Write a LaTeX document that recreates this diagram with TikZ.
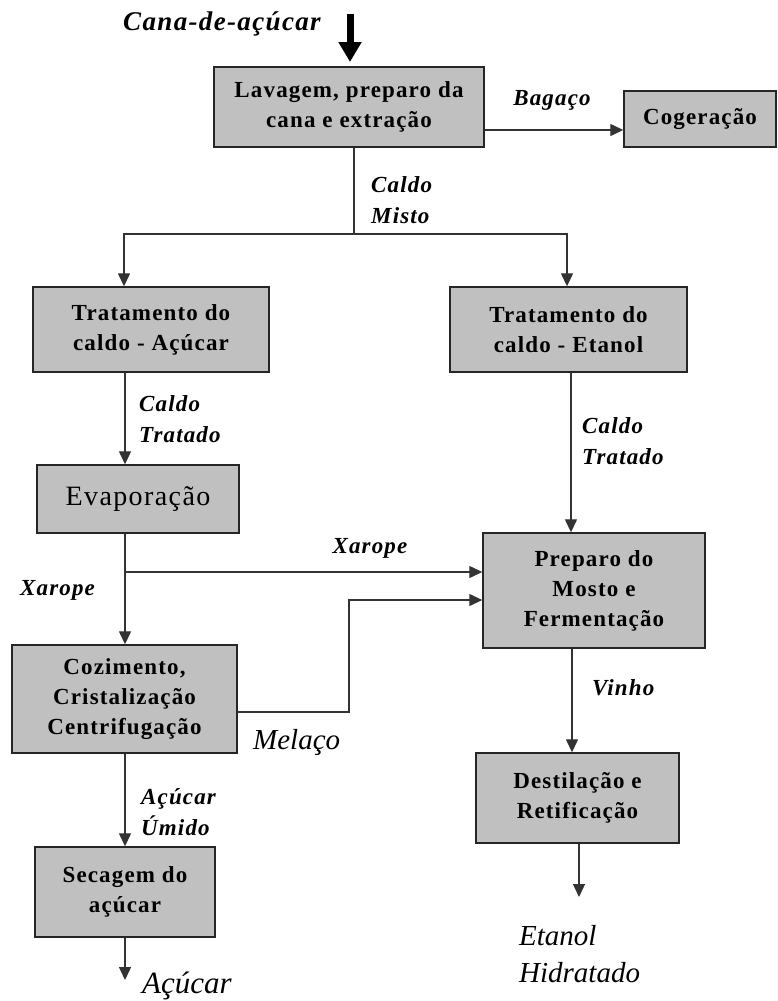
\documentclass[tikz,border=0pt]{standalone}
\usepackage{fontspec}
\setmainfont{Liberation Serif}
\newfontfamily\spaced[LetterSpace=5]{Liberation Serif}
\usetikzlibrary{arrows.meta}
\definecolor{boxgray}{RGB}{192,192,192}
\newcommand{\bxfont}{\spaced\bfseries\fontsize{23}{30}\selectfont}
\newcommand{\lbfont}{\spaced\bfseries\itshape\fontsize{23}{31}\selectfont}
\newcommand{\bigit}{\rmfamily\itshape\fontsize{29}{37}\selectfont}
\begin{document}
\begin{tikzpicture}[x=1pt,y=-1pt,
  proc/.style={draw=black!85, line width=1.4pt, fill=boxgray, align=center,
    inner sep=0pt, font=\bxfont},
  conn/.style={draw=black!80, line width=1.3pt},
  arr/.style={conn, -{Triangle[length=13pt,width=12pt]}},
  lbl/.style={font=\lbfont, align=left, inner sep=0pt},
  big/.style={font=\bigit, align=left, inner sep=0pt}]
\useasboundingbox (0,0) rectangle (777,1001);
% boxes
\node[proc, minimum width=270pt, minimum height=80pt] (lav) at (349,107) {Lavagem, preparo da\\cana e extração};
\node[proc, minimum width=152pt, minimum height=56pt] (cog) at (700,119) {Cogeração};
\node[proc, minimum width=236pt, minimum height=85pt] (tra) at (151,329.5) {Tratamento do\\caldo - Açúcar};
\node[proc, minimum width=237pt, minimum height=85pt] (tre) at (568.5,329.5) {Tratamento do\\caldo - Etanol};
\node[proc, minimum width=202pt, minimum height=68pt, font=\spaced\fontsize{28}{30}\selectfont] (eva) at (138,499) {Evaporação};
\node[proc, minimum width=222pt, minimum height=115pt] (pre) at (594,590.5) {Preparo do\\Mosto e\\Fermentação};
\node[proc, minimum width=225pt, minimum height=108pt] (coz) at (124.5,699) {Cozimento,\\Cristalização\\Centrifugação};
\node[proc, minimum width=203pt, minimum height=90pt] (des) at (577.5,798) {Destilação e\\Retificação};
\node[proc, minimum width=180pt, minimum height=90pt] (sec) at (125,892) {Secagem do\\açúcar};
% labels
\node[lbl, font=\spaced\bfseries\itshape\fontsize{27}{30}\selectfont] (cana) at (222,24) {Cana-de-açúcar};
\node[lbl] (bag) at (552,100) {Bagaço};
\node[lbl, anchor=west] (cm) at (371,200) {Caldo\\Misto};
\node[lbl, anchor=west] (ct1) at (139,419) {Caldo\\Tratado};
\node[lbl, anchor=west] (ct2) at (582,441) {Caldo\\Tratado};
\node[lbl] (xar1) at (370,548) {Xarope};
\node[lbl, anchor=west] (xar2) at (20,590) {Xarope};
\node[lbl, anchor=west] (vin) at (592,688) {Vinho};
\node[big, anchor=west] (mel) at (253,742) {Melaço};
\node[lbl, anchor=west] (au) at (141,812) {Açúcar\\Úmido};
\node[big, anchor=west, font=\rmfamily\itshape\fontsize{31}{37}\selectfont] (acu) at (142,986) {Açúcar};
\node[big, anchor=west] (eth) at (519,954) {Etanol\\Hidratado};
% free ends and bends
\coordinate (in0) at (350,14);
\coordinate (in1) at (350,62);
\coordinate (split) at (354,234);
\coordinate (xs) at (125,572);
\coordinate (mb) at (349,712);
\coordinate (out1) at (579,897);
\coordinate (out2) at (125,980);
% connectors
\draw[line width=7pt, -{Triangle[length=20pt,width=22pt]}] (in0) -- (in1);
\draw[arr] (lav.east |- 0,130) -- (cog.west |- 0,130);
\draw[conn] (lav.south -| split) -- (split);
\draw[arr] (split) -| (tra.north -| 124,0);
\draw[arr] (split) -| (tre.north -| 567,0);
\draw[arr] (tra.south -| 125,0) -- (eva.north -| 125,0);
\draw[arr] (tre.south -| 571,0) -- (pre.north -| 571,0);
\draw[arr] (eva.south -| 125,0) -- (coz.north -| 125,0);
\draw[arr] (xs) -- (pre.west |- xs);
\draw[arr] (coz.east |- mb) -- (mb) -- (349,600) -- (pre.west |- 0,600);
\draw[arr] (pre.south -| 572,0) -- (des.north -| 572,0);
\draw[arr] (des.south -| 579,0) -- (out1);
\draw[arr] (coz.south -| 125,0) -- (sec.north -| 125,0);
\draw[arr] (sec.south -| 125,0) -- (out2);
\end{tikzpicture}
\end{document}
